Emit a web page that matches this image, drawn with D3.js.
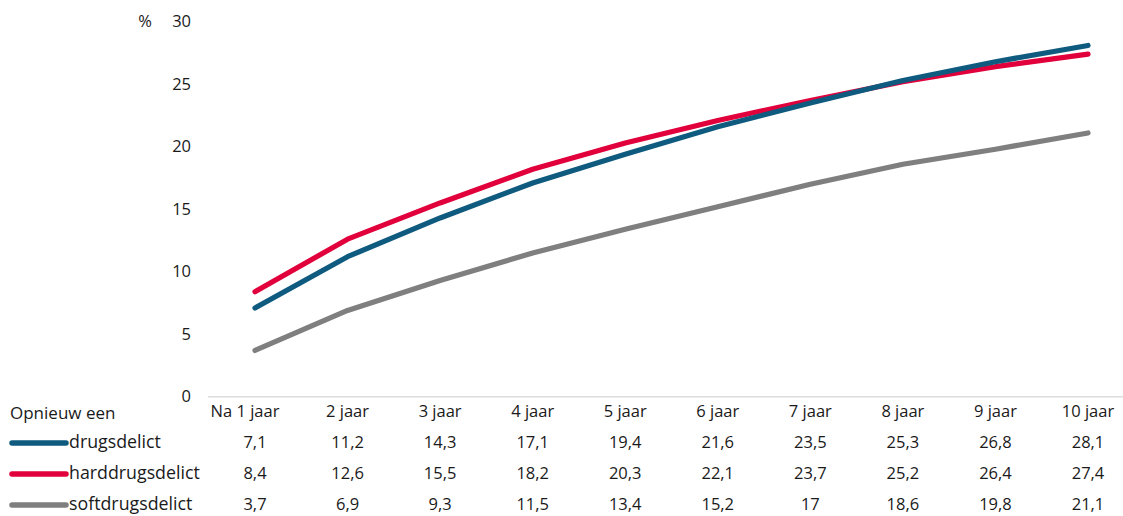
<!DOCTYPE html>
<html><head><meta charset="utf-8">
<script src="https://cdn.jsdelivr.net/npm/d3@7"></script>
<style>body{margin:0;background:#fff;} text{font-family:"Open Sans",sans-serif;fill:#1a1a1a;}</style>
</head><body><svg id="c" width="1123" height="516"></svg>
<script>
const categories = ["Na 1 jaar","2 jaar","3 jaar","4 jaar","5 jaar","6 jaar","7 jaar","8 jaar","9 jaar","10 jaar"];
const drugsdelict = [7.1,11.2,14.3,17.1,19.4,21.6,23.5,25.3,26.8,28.1];
const harddrugsdelict = [8.4,12.6,15.5,18.2,20.3,22.1,23.7,25.2,26.4,27.4];
const softdrugsdelict = [3.7,6.9,9.3,11.5,13.4,15.2,17,18.6,19.8,21.1];
const seriesNames = ["drugsdelict","harddrugsdelict","softdrugsdelict"];
const yTicks = [0,5,10,15,20,25,30];

const series = [
  {name:seriesNames[0], values:drugsdelict, color:"#0f5a7f"},
  {name:seriesNames[1], values:harddrugsdelict, color:"#e1003c"},
  {name:seriesNames[2], values:softdrugsdelict, color:"#7f7f7f"}
];
const svg = d3.select("#c");
const x = d3.scalePoint().domain(categories).range([255,1088]);
const y = d3.scaleLinear().domain([0,30]).range([396.7,21.7]);
const fmt = v => String(v).replace(".",",");
const FS = 16.5;

// baseline
svg.append("line").attr("x1",208).attr("x2",1123).attr("y1",y(0)).attr("y2",y(0))
  .attr("stroke","#dcdcdc").attr("stroke-width",1.5);

// y axis
const ya = svg.append("g").attr("transform","translate(191,0)")
  .call(d3.axisLeft(y).tickValues(yTicks).tickSize(0).tickPadding(0));
ya.select(".domain").remove();
ya.selectAll("text").attr("font-size",FS).attr("font-family","Open Sans").attr("fill","#1a1a1a");
svg.append("text").attr("x",145).attr("y",y(30)).attr("dy","0.32em").attr("font-size",FS).attr("text-anchor","middle").text("%");

// lines
const line = d3.line().x((d,i)=>x(categories[i])).y(d=>y(d));
[series[2],series[1],series[0]].forEach(s=>{
  svg.append("path").attr("d",line(s.values)).attr("fill","none")
    .attr("stroke",s.color).attr("stroke-width",5.2).attr("stroke-linecap","round").attr("stroke-linejoin","round");
});

// table header
const rowY = [413,443,474,505];
svg.append("text").attr("x",10).attr("y",rowY[0]).attr("dy","0.35em").attr("font-size",17).text("Opnieuw een");
categories.forEach((c,i)=>{
  svg.append("text").attr("x",x(c)+(i===0?-10:0)).attr("y",rowY[0]-2).attr("dy","0.35em")
    .attr("font-size",FS).attr("text-anchor","middle").text(c);
});
series.forEach((s,k)=>{
  const yy = rowY[k+1];
  svg.append("line").attr("x1",12).attr("x2",66).attr("y1",yy).attr("y2",yy)
    .attr("stroke",s.color).attr("stroke-width",5.5).attr("stroke-linecap","round");
  svg.append("text").attr("x",69).attr("y",yy).attr("dy","0.3em").attr("font-size",17.8).text(s.name);
  s.values.forEach((v,i)=>{
    svg.append("text").attr("x",x(categories[i])).attr("y",yy).attr("dy","0.3em")
      .attr("font-size",FS).attr("text-anchor","middle").text(fmt(v));
  });
});
</script></body></html>
